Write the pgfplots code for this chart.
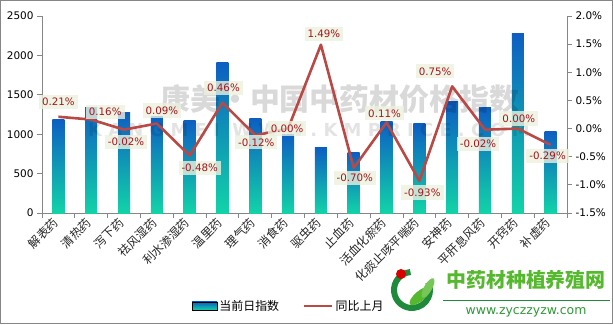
\documentclass[border=0pt]{standalone}
\usepackage{pgfplots}
\pgfplotsset{compat=1.18}
\usepackage{pgfplotstable}
\usepackage{fontspec}
\setmainfont{DejaVu Sans}
\newfontfamily\cjk{Noto Sans CJK SC}
\definecolor{barTop}{HTML}{0D5FC2}
\definecolor{barMid}{HTML}{22C2E6}
\definecolor{barBot}{HTML}{12D3A8}
\definecolor{lineRed}{HTML}{BA4844}
\definecolor{labRed}{HTML}{A8141C}
\definecolor{labBg}{HTML}{EBF1DE}
\definecolor{axGray}{HTML}{868686}
\definecolor{logoGreen}{HTML}{55B82E}
\definecolor{logoDark}{HTML}{1F8A3C}

\pgfplotstableread{
x val
0 1190
1 1335
2 1270
3 1220
4 1170
5 1905
6 1195
7 1000
8 830
9 765
10 1160
11 1130
12 1410
13 1340
14 2275
15 1030
}\bardata

\pgfplotstableread{
x pct dx dy
0 0.21 0 15
1 0.16 14 7.5
2 -0.02 2 -12
3 0.09 5 13
4 -0.48 10 -12
5 0.46 1 15
6 -0.12 1 -7
7 0.00 -1 0
8 1.49 3 11
9 -0.70 1 -10
10 0.11 -2 9
11 -0.93 3 -11.5
12 0.75 -17 15
13 -0.02 -7 -14
14 0.00 1 10
15 -0.29 -3 -11
}\linedata

\begin{document}
\begin{tikzpicture}[x=1bp,y=1bp]
\useasboundingbox (0,0) rectangle (613,324);
\draw[axGray, line width=1bp] (0.5,0.5) rectangle (612.5,323.5);

\begin{axis}[
  scale only axis, width=525bp, height=197bp,
  at={(42bp,111bp)}, anchor=south west,
  xmin=-0.5, xmax=15.5, ymin=0, ymax=2500,
  axis x line*=bottom, axis y line*=left,
  axis line style={axGray, line width=0.8bp, -},
  ybar, bar width=12bp,
  xtick={0,...,15},
  xticklabels={解表药,清热药,泻下药,祛风湿药,利水渗湿药,温里药,理气药,消食药,驱虫药,止血药,活血化瘀药,化痰止咳平喘药,安神药,平肝息风药,开窍药,补虚药},
  xticklabel style={font=\cjk\fontsize{12}{14}\selectfont, rotate=45, anchor=east, color=black!85},
  major x tick style={draw=none},
  minor xtick={-0.5,0.5,...,15.5},
  minor tick length=5bp,
  tick align=outside,
  ytick={0,500,...,2500},
  major tick length=5bp,
  tick style={axGray, line width=0.8bp},
  yticklabel style={font=\fontsize{10.5}{12}\selectfont},
  /pgf/number format/assume math mode=true,
  /pgf/number format/set thousands separator={},
  clip=false,
]
\pgfplotsinvokeforeach{0,...,15}{
  \addplot[draw=none, bar shift=0pt, top color=barTop, middle color=barMid, bottom color=barBot,
    restrict expr to domain={\coordindex}{#1:#1}] table[x=x,y=val]{\bardata};
}
\node[font=\cjk\bfseries\fontsize{30}{32}\selectfont, text=black, opacity=0.15, anchor=west] at (axis cs:3.0,1440) {康美·中国中药材价格指数};
\node[font=\bfseries\fontsize{18}{20}\selectfont, text=black, opacity=0.11, anchor=west] at (axis cs:0.8,1050) {K A N G M E I \ W W W . K M P R I C E . C O M};
\end{axis}

\begin{axis}[
  scale only axis, width=525bp, height=197bp,
  at={(42bp,111bp)}, anchor=south west,
  xmin=-0.5, xmax=15.5, ymin=-1.5, ymax=2,
  axis x line=none, axis y line*=right,
  axis line style={axGray, line width=0.8bp, -},
  ytick={-1.5,-1,...,2},
  yticklabel={\pgfmathprintnumber[fixed,fixed zerofill,precision=1]{\tick}\%},
  yticklabel style={font=\fontsize{10.5}{12}\selectfont},
  tick align=outside, major tick length=5bp,
  tick style={axGray, line width=0.8bp},
  /pgf/number format/assume math mode=true,
  clip=false,
  legend style={draw=none, fill=none, at={(0.47,-0.472)}, anchor=center,
    legend columns=2, font=\cjk\fontsize{12}{14}\selectfont,
    /tikz/every even column/.append style={column sep=22bp}},
  legend cell align=left,
]
\addlegendimage{legend image code/.code={\fill[top color=barTop, middle color=barMid, bottom color=barBot] (0bp,-4bp) rectangle (25bp,4bp);}}
\addlegendentry{当前日指数}
\addlegendimage{legend image code/.code={\draw[line width=2.5bp, lineRed] (0bp,0bp) -- (28bp,0bp);}}
\addlegendentry{同比上月}
\addplot[lineRed, line width=2.6bp, line join=round, mark=none, forget plot,
  point meta=explicit,
  visualization depends on={\thisrow{dx} \as \labdx},
  visualization depends on={\thisrow{dy} \as \labdy},
  nodes near coords={\pgfmathprintnumber[fixed,fixed zerofill,precision=2]{\pgfplotspointmeta}\%},
  every node near coord/.append style={anchor=center, xshift=\labdx bp, yshift=\labdy bp,
    font=\fontsize{10.3}{12}\selectfont, text=labRed, fill=labBg, fill opacity=0.8, text opacity=1,
    inner xsep=3bp, inner ysep=3.2bp},
] table[x=x,y=pct,meta=pct]{\linedata};
\end{axis}

% logo
\draw[logoDark, line width=6bp] (412,34) ++(95:18) arc (95:385:18);
\fill[red!85!black] (401,50) circle (5);
\fill[logoGreen, rotate around={40:(420,28)}] (420,28) ellipse (13 and 5);
\fill[logoGreen!80!white, rotate around={60:(428,36)}] (428,36) ellipse (11 and 4);
\node[font=\cjk\bfseries\fontsize{20}{22}\selectfont, text=logoGreen] at (526,44) {中药材种植养殖网};
\draw[logoDark, line width=0.8bp] (443,24) -- (610,24);
\node[font=\fontsize{12.5}{14}\selectfont, text=logoDark!70!logoGreen] at (526,12) {www.zyczzyzw.com};
\end{tikzpicture}
\end{document}
